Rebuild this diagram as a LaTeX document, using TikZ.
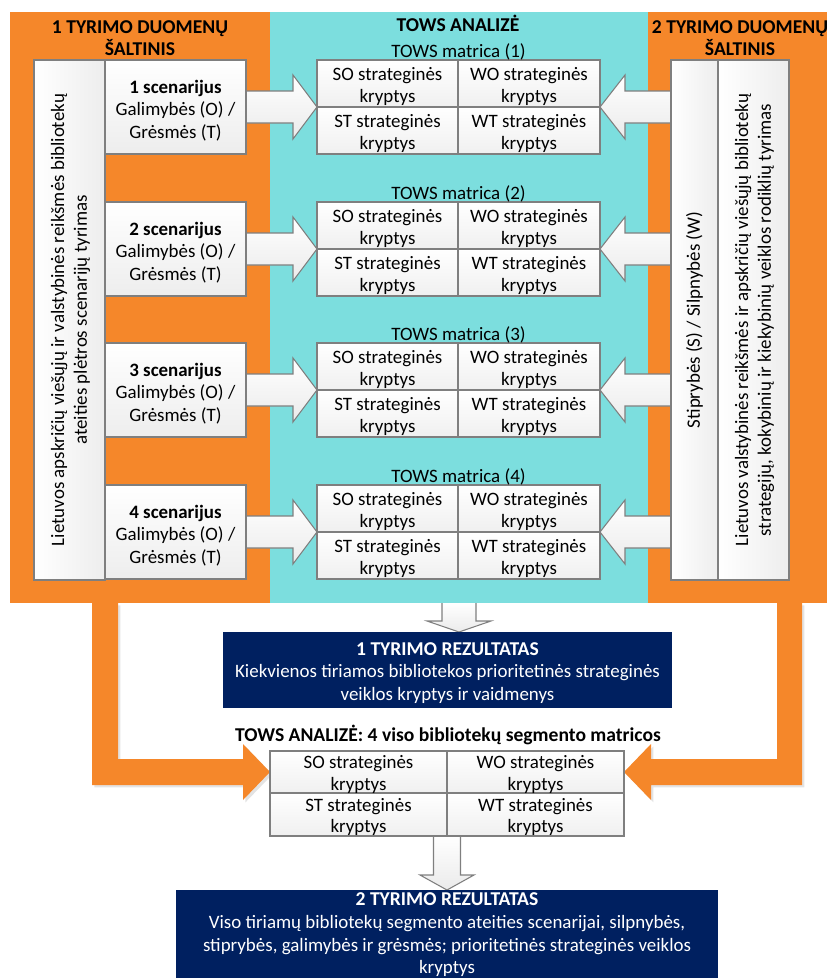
\documentclass[tikz,border=0pt]{standalone}
\usepackage{fontspec}
\setmainfont{Carlito}
\usetikzlibrary{calc,fit,shadows}
\definecolor{orng}{HTML}{F5872A}
\definecolor{cyn}{HTML}{7CDEDE}
\definecolor{navy}{HTML}{002060}
\definecolor{bord}{HTML}{7F7F7F}
\newcommand\ftxt{\fontsize{14.2}{17}\selectfont}
\newcommand\fcell{\fontsize{14.2}{16.5}\selectfont}
\newcommand\fbot{\fontsize{14.2}{16}\selectfont}
\newcommand\fbig{\fontsize{14.7}{17}\selectfont}
\pgfdeclarelayer{panels}
\pgfdeclarelayer{bg}
\pgfsetlayers{panels,bg,main}
\tikzset{
  panel/.style={inner sep=0pt, outer sep=0pt, draw=none},
  wbox/.style={inner sep=0pt, outer sep=0pt, draw=bord, line width=0.9pt, top color=white, bottom color=gray!14},
  vbox/.style={inner sep=0pt, outer sep=0pt, draw=bord, line width=0.9pt, left color=white, right color=gray!14},
  cell/.style={inner sep=0pt, outer sep=0pt, draw=bord, line width=0.9pt, top color=white, bottom color=gray!12},
  res/.style={inner sep=0pt, outer sep=0pt, fill=navy},
  txt/.style={inner sep=0pt, align=center, font=\ftxt},
  ctxt/.style={inner sep=0pt, align=center, font=\fcell},
  btxt/.style={inner sep=0pt, align=center, font=\fbot},
  wtxt/.style={inner sep=0pt, align=center, font=\ftxt, text=white},
  garrow/.style={draw=bord, line width=0.8pt, top color=white, bottom color=gray!16, line join=miter},
  oarrow/.style={fill=orng, draw=none, drop shadow={shadow xshift=1.8pt, shadow yshift=-1.8pt, opacity=0.22}},
  ttl/.style={font=\fbig\bfseries, align=center, inner sep=0pt},
  mt/.style={font=\ftxt, inner sep=0pt, anchor=base},
  rtxt/.style={rotate=90, font=\ftxt, align=center, inner sep=0pt}
}
\begin{document}
\begin{tikzpicture}[x=0.75pt,y=-0.75pt]
\useasboundingbox (0,0) rectangle (827,978);
% panels
\begin{pgfonlayer}{panels}
\node[panel, fill=orng, fit={(10,12) (270,603)}] (lp) {};
\node[panel, fill=cyn, fit={(270,12) (648,603)}] (cp) {};
\node[panel, fill=orng, fit={(648,12) (827,603)}] (rp) {};
\end{pgfonlayer}
\node[ttl] (lpt) at (140,38) {1 TYRIMO DUOMENŲ\\ŠALTINIS};
\node[ttl] (cpt) at (458,23) {TOWS ANALIZĖ};
\node[ttl] (rpt) at (740,38) {2 TYRIMO DUOMENŲ\\ŠALTINIS};

% bottom matrix
\node[cell, fit={(270,751) (447,793)}] (SOb) {};
\node[cell, fit={(447,751) (624,793)}] (WOb) {};
\node[cell, fit={(270,793) (447,836)}] (STb) {};
\node[cell, fit={(447,793) (624,836)}] (WTb) {};
\node[btxt] at ($(SOb.center)+(0,2.5)$) {SO strateginės\\kryptys};
\node[btxt] at ($(WOb.center)+(0,2.5)$) {WO strateginės\\kryptys};
\node[btxt] at ($(STb.center)+(0,2.5)$) {ST strateginės\\kryptys};
\node[btxt] at ($(WTb.center)+(0,2.5)$) {WT strateginės\\kryptys};
\node[mt, font=\fbig\bfseries] (bt) at (448,741) {TOWS ANALIZĖ: 4 viso bibliotekų segmento matricos};

% result boxes
\node[res, fit={(223,632) (672,708)}] (r1) {};
\node[wtxt] at ($(r1.center)+(0,3)$) {{\fbig\bfseries 1 TYRIMO REZULTATAS}\\Kiekvienos tiriamos bibliotekos prioritetinės strateginės\\veiklos kryptys ir vaidmenys};
\node[res, fit={(176,890) (718,978)}] (r2) {};
\node[wtxt] at ($(r2.center)+(0,1)$) {{\fbig\bfseries 2 TYRIMO REZULTATAS}\\Viso tiriamų bibliotekų segmento ateities scenarijai, silpnybės,\\stiprybės, galimybės ir grėsmės; prioritetinės strateginės veiklos\\kryptys};

% left and right source boxes
\node[vbox, fit={(34,60) (105,580)}] (lb) {};
\node[rtxt] (lbt) at ($(lb.center)+(1,0)$) {Lietuvos apskričių viešųjų ir valstybinės reikšmės bibliotekų\\ateities plėtros scenarijų tyrimas};
\node[vbox, fit={(671,60) (718,580)}] (sw) {};
\node[rtxt] (swt) at (sw.center) {Stiprybės (S) / Silpnybės (W)};
\node[vbox, fit={(718,60) (789,580)}] (rw) {};
\node[rtxt] (rwt) at ($(rw.center)+(1,0)$) {Lietuvos valstybinės reikšmės ir apskričių viešųjų bibliotekų\\strategijų, kokybinių ir kiekybinių veiklos rodiklių tyrimas};

% four rows
\foreach \k/\T in {1/60,2/202,3/343,4/485} {
  \node[wbox, fit={(105,\T) (246,\T+94)}] (s\k) {};
  \node[txt] at ($(s\k.center)+(0,3.5)$) {{\bfseries \k\ scenarijus}\\Galimybės (O) /\\Grėsmės (T)};
  \node[cell, fit={(317,\T) (458,\T+47)}] (SO\k) {};
  \node[cell, fit={(458,\T) (600,\T+47)}] (WO\k) {};
  \node[cell, fit={(317,\T+47) (458,\T+94)}] (ST\k) {};
  \node[cell, fit={(458,\T+47) (600,\T+94)}] (WT\k) {};
  \node[ctxt] at ($(SO\k.center)+(0,3)$) {SO strateginės\\kryptys};
  \node[ctxt] at ($(WO\k.center)+(0,3)$) {WO strateginės\\kryptys};
  \node[ctxt] at ($(ST\k.center)+(0,3)$) {ST strateginės\\kryptys};
  \node[ctxt] at ($(WT\k.center)+(0,3)$) {WT strateginės\\kryptys};
  \node[mt] (mt\k) at (458.5,\T-3) {TOWS matrica (\k)};
  \begin{pgfonlayer}{bg}
  \draw[garrow] ($(s\k.east)+(0,-16)$) -- ($(SO\k.south west)+(-24,-16)$) -- ($(SO\k.south west)+(-24,-32)$) -- (SO\k.south west) -- ($(SO\k.south west)+(-24,32)$) -- ($(SO\k.south west)+(-24,16)$) -- ($(s\k.east)+(0,16)$);
  \draw[garrow] ($(sw.west |- WO\k.south east)+(0,-16)$) -- ($(WO\k.south east)+(25,-16)$) -- ($(WO\k.south east)+(25,-32)$) -- (WO\k.south east) -- ($(WO\k.south east)+(25,32)$) -- ($(WO\k.south east)+(25,16)$) -- ($(sw.west |- WO\k.south east)+(0,16)$);
  \end{pgfonlayer}
}

\begin{pgfonlayer}{bg}
% orange L arrows
\coordinate (lo1) at ($(lp.south west)+(82,0)$);
\coordinate (lo2) at ($(lp.south west)+(108,0)$);
\fill[oarrow] (lo1) -- ($(lo1 |- SOb.west)+(0,13)$) -- ($(SOb.west)+(-27,13)$) -- ($(SOb.west)+(-27,28)$) -- (SOb.west) -- ($(SOb.west)+(-27,-28)$) -- ($(SOb.west)+(-27,-13)$) -- ($(lo2 |- SOb.west)+(0,-13)$) -- (lo2) -- cycle;
\coordinate (ro1) at ($(rp.south west)+(129,0)$);
\coordinate (ro2) at ($(rp.south west)+(154,0)$);
\fill[oarrow] (ro2) -- ($(ro2 |- WOb.east)+(0,13)$) -- ($(WOb.east)+(27,13)$) -- ($(WOb.east)+(27,28)$) -- (WOb.east) -- ($(WOb.east)+(27,-28)$) -- ($(WOb.east)+(27,-13)$) -- ($(ro1 |- WOb.east)+(0,-13)$) -- (ro1) -- cycle;
% down arrows
\coordinate (d1) at (cp.south);
\coordinate (d1t) at (d1 |- r1.north);
\draw[garrow] ($(d1)+(-17,0)$) -- ($(d1t)+(-17,-11)$) -- ($(d1t)+(-32,-11)$) -- (d1t) -- ($(d1t)+(32,-11)$) -- ($(d1t)+(17,-11)$) -- ($(d1)+(17,0)$);
\coordinate (d2) at (STb.south east);
\coordinate (d2t) at (d2 |- r2.north);
\draw[garrow] ($(d2)+(-13.5,0)$) -- ($(d2t)+(-13.5,-15)$) -- ($(d2t)+(-27,-15)$) -- (d2t) -- ($(d2t)+(27,-15)$) -- ($(d2t)+(13.5,-15)$) -- ($(d2)+(13.5,0)$);
\end{pgfonlayer}
\end{tikzpicture}
\end{document}
